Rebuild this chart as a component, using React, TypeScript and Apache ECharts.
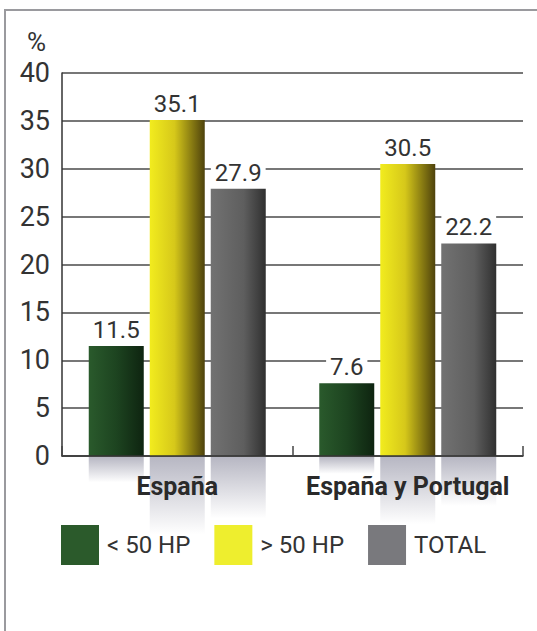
import React, { useEffect, useRef } from "react";
import * as echarts from "echarts";

// Share of tractors, by power class and region (%)
const categories = ["España", "España y Portugal"];
const seriesNames = ["< 50 HP", "> 50 HP", "TOTAL"];
const below50 = [11.5, 7.6];
const above50 = [35.1, 30.5];
const total = [27.9, 22.2];
const yTicks = { min: 0, max: 40, step: 5 };

const FONT = "Roboto, 'Noto Sans', sans-serif";
const BAR_W = 55;
const BAR_GAP_PX = 6;
const REFLECT = 0.23;

const barFills = [
  new echarts.graphic.LinearGradient(0, 0, 1, 0, [
    { offset: 0, color: "#2a5a2c" },
    { offset: 0.5, color: "#1d4420" },
    { offset: 1, color: "#0e2410" },
  ]),
  new echarts.graphic.LinearGradient(0, 0, 1, 0, [
    { offset: 0, color: "#f2ec1e" },
    { offset: 0.45, color: "#d6c81a" },
    { offset: 1, color: "#4e420c" },
  ]),
  new echarts.graphic.LinearGradient(0, 0, 1, 0, [
    { offset: 0, color: "#727272" },
    { offset: 0.6, color: "#5e5e5e" },
    { offset: 1, color: "#303030" },
  ]),
];
const legendColors = ["#2b5a2b", "#eeee2e", "#79797d"];

export default function App() {
  const ref = useRef<HTMLDivElement>(null);

  useEffect(() => {
    if (!ref.current) return;
    const chart = echarts.init(ref.current, null, { renderer: "svg" });
    const values = [below50, above50, total];

    // floor reflections under each bar
    const reflectData: number[][] = [];
    values.forEach((arr, s) => arr.forEach((v, c) => reflectData.push([c, s, v])));

    const barSeries = values.map((arr, s) => ({
      name: seriesNames[s],
      type: "bar",
      data: arr,
      barWidth: BAR_W,
      barGap: `${(BAR_GAP_PX / BAR_W) * 100}%`,
      z: 3,
      itemStyle: { color: barFills[s] },
      label: {
        show: true,
        position: "top",
        distance: 4,
        fontFamily: FONT,
        fontSize: 24,
        color: "#333",
        backgroundColor: "#fff",
        padding: [0, 4, 0, 4],
        formatter: (p: any) => p.value.toFixed(1),
      },
    }));

    chart.setOption({
      animation: false,
      backgroundColor: "transparent",
      textStyle: { fontFamily: FONT },
      grid: { left: 62, right: 14, top: 73, bottom: 175, containLabel: false },
      legend: {
        left: 61,
        top: 525,
        padding: 0,
        itemWidth: 38,
        itemHeight: 40,
        itemGap: 24,
        icon: "rect",
        selectedMode: false,
        textStyle: { fontFamily: FONT, fontSize: 24, color: "#333", padding: [0, 0, 0, 3] },
        data: seriesNames.map((n, i) => ({ name: n, itemStyle: { color: legendColors[i] } })),
      },
      xAxis: {
        type: "category",
        data: categories,
        z: 5,
        axisLine: { show: true, lineStyle: { color: "#333", width: 1.5 } },
        axisTick: { show: true, inside: true, length: 10, lineStyle: { color: "#444", width: 1.5 } },
        axisLabel: {
          interval: 0,
          fontFamily: FONT,
          fontSize: 25,
          fontWeight: "bold",
          color: "#2a2a2a",
          margin: 18,
        },
      },
      yAxis: {
        type: "value",
        min: yTicks.min,
        max: yTicks.max,
        interval: yTicks.step,
        name: "%",
        nameLocation: "end",
        nameGap: 18,
        nameTextStyle: { fontFamily: FONT, fontSize: 26, color: "#333", align: "right", padding: [0, 16, 0, 0] },
        axisLine: { show: true, lineStyle: { color: "#333", width: 1.5 } },
        axisTick: { show: false },
        axisLabel: { fontFamily: FONT, fontSize: 27, color: "#333", margin: 12 },
        splitLine: { show: true, lineStyle: { color: "#4a4a4a", width: 1.5 } },
      },
      series: [
        ...barSeries,
        {
          name: "reflejo",
          type: "custom",
          z: 1,
          silent: true,
          data: reflectData,
          renderItem: (_params: any, api: any) => {
            const c = api.value(0);
            const s = api.value(1);
            const v = api.value(2);
            const base = api.coord([c, 0]);
            const top = api.coord([c, v]);
            const h = (base[1] - top[1]) * REFLECT;
            const x = base[0] + (s - 1) * (BAR_W + BAR_GAP_PX) - BAR_W / 2;
            return {
              type: "rect",
              shape: { x, y: base[1] + 1, width: BAR_W, height: h },
              style: {
                fill: new echarts.graphic.LinearGradient(0, 0, 0, 1, [
                  { offset: 0, color: "rgba(135,135,155,0.6)" },
                  { offset: 1, color: "rgba(135,135,155,0)" },
                ]),
              },
            };
          },
        },
      ],
    });

    return () => chart.dispose();
  }, []);

  return (
    <div style={{ position: "fixed", left: 0, top: 0, width: 537, height: 631, background: "#fff" }}>
      <div
        style={{
          position: "absolute",
          left: 4,
          top: 9,
          right: 0,
          bottom: 0,
          borderLeft: "2px solid #9a9a9e",
          borderTop: "2px solid #9a9a9e",
        }}
      />
      <div ref={ref} style={{ position: "absolute", left: 0, top: 0, width: 537, height: 631 }} />
    </div>
  );
}
